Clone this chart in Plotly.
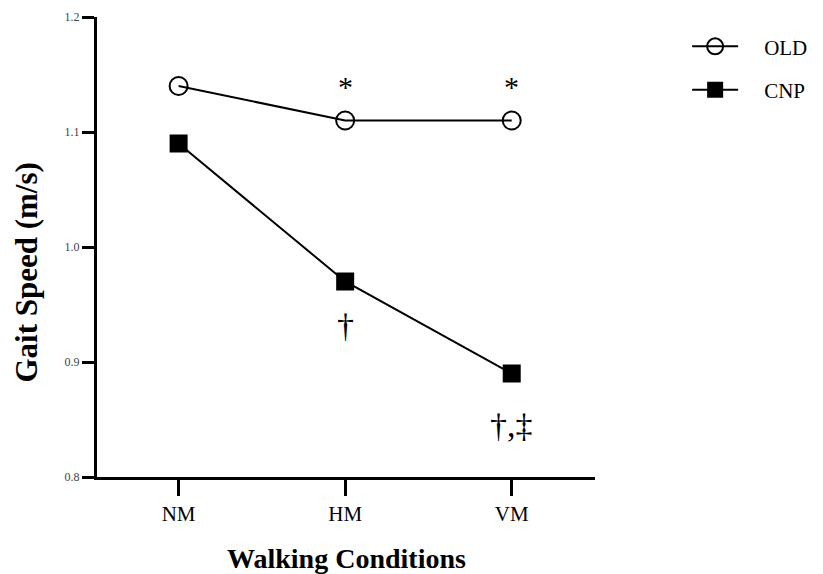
import plotly.graph_objects as go

conditions = ["NM", "HM", "VM"]
old_speed = [1.14, 1.11, 1.11]
cnp_speed = [1.09, 0.97, 0.89]
y_ticks = [0.8, 0.9, 1.0, 1.1, 1.2]
y_tick_labels = ["0.8", "0.9", "1.0", "1.1", "1.2"]

# significance markers: (category, y value, text)
sig_cats = ["HM", "VM", "HM", "VM"]
sig_y = [1.14, 1.14, 0.932, 0.845]
sig_text = ["*", "*", "†", "†,‡"]

x_title = "Walking Conditions"
y_title = "Gait Speed (m/s)"

FONT = "Liberation Serif"
PAD = "\u00a0\u00a0\u00a0\u00a0"

fig = go.Figure()
fig.add_trace(go.Scatter(
    x=conditions, y=old_speed, name=PAD + "OLD", mode="lines+markers",
    line=dict(color="black", width=2),
    marker=dict(symbol="circle-open", size=18, color="black", line=dict(width=2)),
    legendgroup="a",
))
fig.add_trace(go.Scatter(
    x=conditions, y=cnp_speed, name=PAD + "CNP", mode="lines+markers",
    line=dict(color="black", width=2),
    marker=dict(symbol="square", size=18, color="black"),
    legendgroup="b",
))

for c, yv, t in zip(sig_cats, sig_y, sig_text):
    fig.add_annotation(x=c, y=yv, text=t, showarrow=False,
                       font=dict(family=FONT, size=30 if t == "*" else 34, color="black"))

# axis titles placed as annotations (paper coords relative to plot area)
fig.add_annotation(xref="paper", yref="paper", x=0.5, y=-0.178, yanchor="middle",
                   text=x_title, showarrow=False,
                   font=dict(family=FONT, size=28, weight="bold", color="black"))
fig.add_annotation(xref="paper", yref="paper", x=-0.142, y=0.445, xanchor="center",
                   yanchor="middle", textangle=-90, text=y_title, showarrow=False,
                   font=dict(family=FONT, size=31, weight="bold", color="black"))

fig.update_layout(
    width=815, height=566,
    margin=dict(l=89, r=228, t=9, b=97, autoexpand=False),
    plot_bgcolor="white", paper_bgcolor="white",
    font=dict(family=FONT, color="black"),
    showlegend=True,
    legend=dict(x=1.185, y=0.98, xanchor="left", yanchor="top",
                font=dict(family=FONT, size=21, color="black"),
                traceorder="grouped", tracegroupgap=13, itemwidth=46,
                borderwidth=0, bgcolor="rgba(0,0,0,0)"),
    xaxis=dict(
        type="category", range=[-0.49, 2.5], automargin=False,
        showline=True, linecolor="black", linewidth=3,
        ticks="outside", ticklen=16, tickwidth=3, tickcolor="black",
        tickfont=dict(family=FONT, size=21, color="black"),
        showgrid=False, zeroline=False,
    ),
    yaxis=dict(
        range=[0.8, 1.2], tickvals=y_ticks, ticktext=y_tick_labels, automargin=False,
        showline=True, linecolor="black", linewidth=3,
        ticks="outside", ticklen=12, tickwidth=3, tickcolor="black",
        tickfont=dict(family=FONT, size=12, color="#444"),
        showgrid=False, zeroline=False,
    ),
)

fig.write_html("out.html")
